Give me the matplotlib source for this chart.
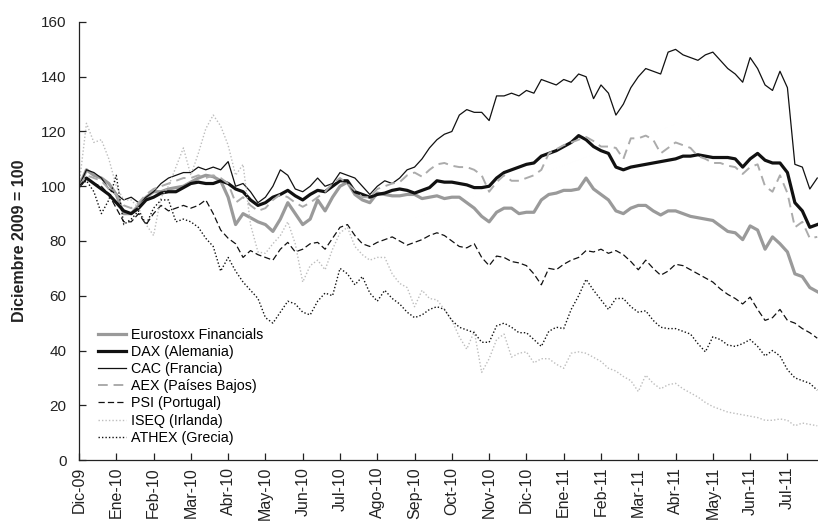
import numpy as np
import matplotlib
matplotlib.use("Agg")
import matplotlib.pyplot as plt

plt.rcParams["font.family"] = ["Liberation Sans", "DejaVu Sans"]

# month labels on the x axis (Dic-09 .. Jul-11)
months = ["Dic-09", "Ene-10", "Feb-10", "Mar-10", "Abr-10", "May-10", "Jun-10",
          "Jul-10", "Ago-10", "Sep-10", "Oct-10", "Nov-10", "Dic-10", "Ene-11",
          "Feb-11", "Mar-11", "Abr-11", "May-11", "Jun-11", "Jul-11"]

# index values, Dec 2009 = 100, five readings per month
eurostoxx = [100, 106, 104, 103, 101, 97, 90, 90, 93, 96,
             98, 98, 99, 99.5, 100, 101.5, 103, 104, 103.5, 102,
             96, 86, 90, 88.5, 87, 86, 83.5, 88, 94, 90,
             86, 88, 95, 91, 96, 100, 101.5, 97, 95, 94,
             97.5, 97, 96.5, 96.5, 97, 97, 95.5, 96, 96.5, 95.5,
             96, 96, 94, 92, 89, 87, 90.5, 92, 92, 90,
             90.5, 90.5, 95, 97, 97.5, 98.5, 98.5, 99, 103, 99,
             97, 95, 91, 90, 92, 93, 93, 91, 89.5, 91,
             91, 90, 89, 88.5, 88, 87.5, 85.5, 83.5, 83, 80.5,
             85.5, 84, 77, 81.5, 79, 76, 68, 67, 63, 61.5]

dax = [100, 103, 101, 99, 97, 94, 91, 90, 92, 95,
       96, 97.5, 98, 98, 99.5, 101, 101.5, 101, 101, 102,
       101, 99, 98, 95, 93, 94, 96, 97, 98.5, 96.5,
       95, 97, 98.5, 98, 100, 102, 102, 98, 97, 96,
       97, 97.5, 98.5, 99, 98.5, 97.5, 98.5, 99.5, 102, 101.5,
       101.5, 101, 100.5, 99.5, 99.5, 100, 103, 105, 106, 107,
       108, 108.5, 111, 112, 113, 114.5, 116, 118.5, 117, 114.5,
       113, 112, 107, 106, 107, 107.5, 108, 108.5, 109, 109.5,
       110, 111, 111, 111.5, 111, 110.5, 110.5, 110.5, 110, 107,
       110, 112, 109.5, 108.5, 108.5, 105, 94, 91, 85, 86]

cac = [100, 106, 105, 103, 99, 97, 95, 96, 94, 96,
       98, 101, 103, 104, 105, 105, 107, 106, 107, 106,
       109, 100, 101, 98, 94, 96, 100, 106, 104, 99,
       98, 100, 103, 100, 101, 105, 104, 103, 100, 97,
       100, 102, 101, 103, 106, 107, 110, 114, 117, 119,
       120, 126, 128, 127, 127, 124, 133, 133, 134, 133,
       135, 134, 139, 138, 137, 139, 138, 141, 140, 132,
       137, 134, 126, 130, 136, 140, 143, 142, 141, 149,
       150, 148, 147, 146, 148, 149, 146, 143, 141, 138,
       147, 143, 137, 135, 142, 136, 108, 107, 99, 103]

aex = [100, 104, 103, 102, 99, 97, 93, 92, 94, 97,
       99, 100, 101, 102, 103, 103, 104, 103, 104, 103,
       101, 94, 96, 93, 91, 92, 95, 97, 96, 94,
       92.5, 94, 96, 98, 101, 103, 101, 98.5, 96, 96,
       99, 100, 101, 101.5, 104, 105, 103.5, 106, 108, 108.5,
       107.5, 107, 107, 106, 104, 98, 101.5, 104, 102, 102,
       103, 104, 106, 112, 113.5, 115, 116, 117, 118, 116.5,
       114.5, 114.5, 114, 110, 117.5, 117.5, 118.5, 117, 112, 114,
       116, 115, 114, 111, 110, 108.5, 108.5, 107.5, 107, 104.5,
       107, 108, 100, 98, 104, 97.5, 85, 87, 81, 81.5]

psi = [100, 103, 101, 100, 97, 92, 87, 87, 90, 86,
       90, 93, 91, 92, 93, 92, 93, 95, 90, 84,
       81, 79, 74, 76.5, 75, 74, 73, 77, 79.5, 76,
       77, 79, 79.5, 77, 81, 85, 86, 82, 79, 78,
       79.5, 80.5, 81.5, 80, 78.5, 79.5, 80.5, 82, 83, 82,
       80, 78, 77.5, 79, 74, 71, 74.5, 74, 72.5, 72,
       71, 68, 64, 70, 69.5, 71.5, 73, 74, 76.5, 76,
       77, 75.5, 76.5, 75, 72.5, 69.5, 73, 70, 67.5, 69,
       71.5, 71, 69.5, 68, 66.5, 65, 62.5, 60.5, 59, 57,
       59.5, 55, 51, 52, 55, 51, 50, 48, 46.5, 44.5]

iseq = [100, 123, 116, 117, 110, 100, 95, 95, 92, 86,
        82, 96, 100, 107, 114, 104, 112, 121, 126, 122,
        115, 104, 108, 86, 76, 75.5, 79, 82, 87, 79,
        65, 71, 73, 69.5, 77, 83, 85, 78, 75, 73,
        74, 74, 68, 64.5, 63, 56, 62, 59, 58.5, 55,
        51, 45, 40.5, 47, 32, 37, 44, 46, 37.6, 39,
        39.5, 35.5, 37, 37, 35, 33.5, 39, 39.5, 39, 37.5,
        36, 33.5, 32.5, 30.5, 29, 25, 31, 28, 26, 27.5,
        28, 26, 24.5, 23, 21, 19.5, 18.5, 17.5, 17, 16.5,
        16, 15.5, 14.5, 14.5, 15, 14.5, 12.5, 13.5, 13, 12.5]

athex = [100, 102, 98, 90, 95, 104, 86, 88, 91, 86,
         92, 95, 95, 87, 88, 87, 85, 81, 78, 69,
         74, 69, 65, 62, 59, 52, 50, 54, 58, 57,
         54, 53, 58, 61, 60, 70, 68, 64, 67, 61,
         58, 62, 59, 57, 54, 52, 53, 55, 56, 55,
         51, 48.5, 47.5, 46.5, 43, 43, 49, 50, 48.5, 46.5,
         46.5, 44, 41.5, 47, 48.5, 48, 55, 60, 66, 62,
         58.5, 55, 59, 59, 56, 54, 54.5, 51, 48.5, 48,
         48, 47, 46, 42.5, 39.5, 45, 44, 42, 41.5, 42.5,
         44, 41.5, 38, 40, 38, 33, 30, 29, 28, 25.5]

t = np.arange(len(dax)) / 5.0  # months since Dic-09

fig = plt.figure(figsize=(8.18, 5.21), dpi=100)
ax = fig.add_axes([79 / 818, 61 / 521, 739 / 818, 438 / 521])

ax.plot(t, eurostoxx, color="#9a9a9a", lw=2.3, label="Eurostoxx Financials")
ax.plot(t, dax, color="#111111", lw=2.3, label="DAX (Alemania)")
ax.plot(t, cac, color="#111111", lw=0.9, label="CAC (Francia)")
ax.plot(t, aex, color="#ababab", lw=1.4, linestyle=(0, (5, 3)),
        label="AEX (Países Bajos)")
ax.plot(t, psi, color="#111111", lw=0.9, linestyle=(0, (5, 2.5)),
        label="PSI (Portugal)")
ax.plot(t, iseq, color="#bdbdbd", lw=1.0, linestyle=(0, (1, 1.5)),
        label="ISEQ (Irlanda)")
ax.plot(t, athex, color="#111111", lw=1.0, linestyle=(0, (1, 1.5)),
        label="ATHEX (Grecia)")

ax.set_xlim(0, 19.82)
ax.set_ylim(0, 160)
ax.set_yticks(np.arange(0, 161, 20))
ax.set_xticks(np.arange(len(months)))
ax.set_xticklabels(months, rotation=90, fontsize=11.5)
ax.tick_params(axis="y", labelsize=11, direction="in", length=5, width=0.9,
               pad=9, colors="#222222")
ax.tick_params(axis="x", direction="in", length=5, width=0.9, pad=5,
               colors="#222222")
for side in ("top", "right"):
    ax.spines[side].set_visible(False)
for side in ("left", "bottom"):
    ax.spines[side].set_linewidth(0.9)
    ax.spines[side].set_color("#222222")

ax.set_ylabel("Diciembre 2009 = 100", fontsize=11.5, fontweight="bold",
              color="#222222")
ax.yaxis.set_label_coords(-0.071, 0.5)

ax.legend(loc="upper left", bbox_to_anchor=(85 / 818, 1 - 315 / 521),
          bbox_transform=fig.transFigure, frameon=False, fontsize=10.3,
          handlelength=2.0, handletextpad=0.3, labelspacing=0.22,
          borderpad=0.4)

fig.savefig("out.png", dpi=100)
